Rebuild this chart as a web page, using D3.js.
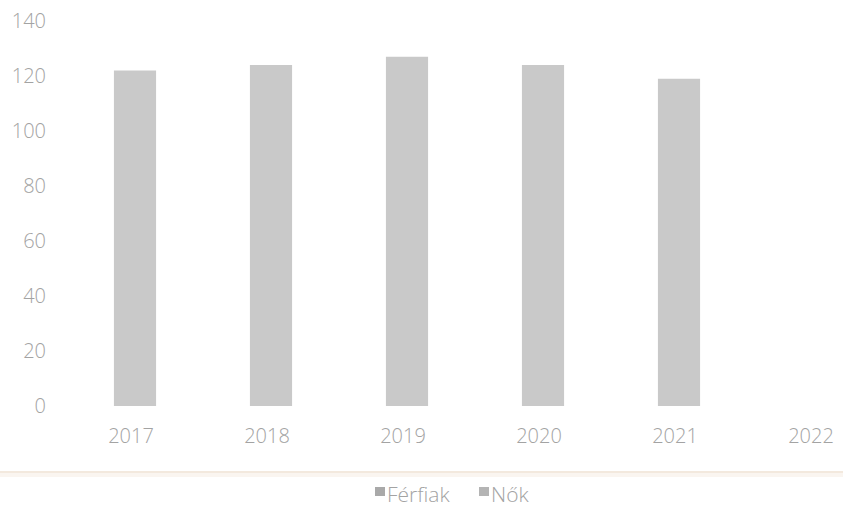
<!DOCTYPE html>
<html><head><meta charset="utf-8">
<script src="https://cdn.jsdelivr.net/npm/d3@7"></script>
<style>
html,body{margin:0;padding:0;background:#fff;overflow:hidden}
text{font-family:"Open Sans","Liberation Sans",sans-serif;font-weight:300}
</style></head>
<body>
<svg id="c" width="843" height="507"></svg>
<script>
const categories = ["2017","2018","2019","2020","2021","2022"];
const values = [122, 124, 127, 124, 119, null];
const yTicks = [0,20,40,60,80,100,120,140];
const seriesNames = ["Férfiak","Nők"];
const seriesColors = ["#a9a9a9","#b4b4b4"];

const svg = d3.select("#c");
const x = d3.scaleBand().domain(categories).range([67, 883]).paddingInner(0.69).paddingOuter(0.345);
const y = d3.scaleLinear().domain([0,140]).range([406, 21]);

const yAxis = svg.append("g").attr("transform","translate(46,0)")
  .call(d3.axisLeft(y).tickValues(yTicks).tickSize(0).tickPadding(0));
yAxis.select(".domain").remove();
yAxis.selectAll("text").attr("fill","#a3a3a3").style("font-size","20px").style("font-family","Open Sans, sans-serif").style("font-weight","300");

svg.append("g").selectAll("rect").data(categories.map((c,i)=>({c,v:values[i]})).filter(d=>d.v!=null))
  .join("rect")
  .attr("x", d=>x(d.c)).attr("width", x.bandwidth())
  .attr("y", d=>y(d.v)).attr("height", d=>y(0)-y(d.v))
  .attr("fill","#c9c9c9");

const xAxis = svg.append("g").attr("transform","translate(-4,429)")
  .call(d3.axisBottom(x).tickSize(0).tickPadding(0));
xAxis.select(".domain").remove();
xAxis.selectAll("text").attr("fill","#a3a3a3").style("font-size","20px").style("font-family","Open Sans, sans-serif").style("font-weight","300");

svg.append("rect").attr("x",0).attr("width",843).attr("y",471).attr("height",6).attr("fill","#faf5f0");
svg.append("line").attr("x1",0).attr("x2",843).attr("y1",472).attr("y2",472).attr("stroke","#f0e4d9").attr("stroke-width",1.5);

const legendX = [375, 479];
const lg = svg.append("g");
seriesNames.forEach((n,i)=>{
  lg.append("rect").attr("x",legendX[i]).attr("y",487).attr("width",10).attr("height",9).attr("fill",seriesColors[i]);
  lg.append("text").attr("x",legendX[i]+12).attr("y",502).text(n)
    .attr("fill","#a3a3a3").style("font-size","21px");
});
</script>
</body></html>
